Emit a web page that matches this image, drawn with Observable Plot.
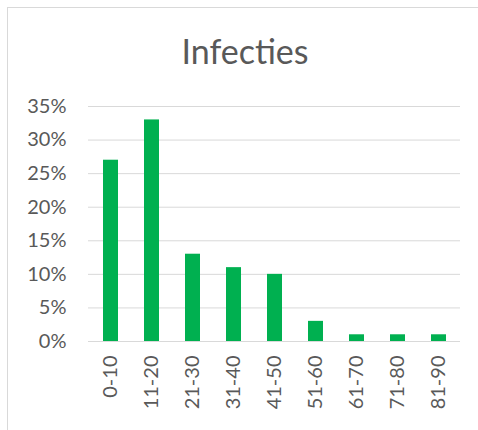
<!DOCTYPE html>
<html>
<head>
<meta charset="utf-8">
<script src="https://cdn.jsdelivr.net/npm/d3@7"></script>
<script src="https://cdn.jsdelivr.net/npm/@observablehq/plot@0.6"></script>
<style>
  html, body { margin: 0; padding: 0; background: #fff; }
  #wrap { position: relative; width: 478px; height: 430px; overflow: hidden; }
  #frame { position: absolute; left: 7px; top: 7px; width: 480px; height: 430px;
           border-left: 1px solid #d9d9d9; border-top: 1px solid #d9d9d9; box-sizing: border-box; }
  #title { position: absolute; left: 0; width: 490px; top: 31px; text-align: center;
           font-family: Lato, sans-serif; font-size: 34px; color: #595959; line-height: 40px; }
  #chart { position: absolute; left: 0; top: 0; }
</style>
</head>
<body>
<div id="wrap">
  <div id="frame"></div>
  <div id="chart"></div>
  <div id="title">Infecties</div>
</div>
<script>
const categories = ["0-10", "11-20", "21-30", "31-40", "41-50", "51-60", "61-70", "71-80", "81-90"];
const values = [0.27, 0.33, 0.13, 0.11, 0.10, 0.03, 0.01, 0.01, 0.01];
const yTicks = [0, 0.05, 0.10, 0.15, 0.20, 0.25, 0.30, 0.35];

const data = categories.map((c, i) => ({ cat: c, value: values[i] }));

const chart = Plot.plot({
  width: 478,
  height: 430,
  marginLeft: 88,
  marginRight: 18,
  marginTop: 106,
  marginBottom: 89,
  style: { fontFamily: "Lato, sans-serif", fontSize: "20px", color: "#595959", background: "transparent" },
  x: { domain: categories, paddingInner: 0.64, paddingOuter: 0.32, label: null },
  y: { domain: [0, 0.35], label: null },
  marks: [
    Plot.gridY(yTicks, { stroke: "#d9d9d9", strokeOpacity: 1, strokeWidth: 1 }),
    Plot.barY(data, { x: "cat", y: "value", fill: "#00b050" }),
    Plot.ruleY([0], { stroke: "#d9d9d9", strokeWidth: 1 }),
    Plot.axisY(yTicks, { tickSize: 0, tickPadding: 22, tickFormat: d => Math.round(d * 100) + "%", label: null, fill: "#595959" }),
    Plot.axisX({ tickSize: 0, tickPadding: 14, tickRotate: -90, label: null, fill: "#595959" })
  ]
});
document.getElementById("chart").appendChild(chart);
</script>
</body>
</html>
